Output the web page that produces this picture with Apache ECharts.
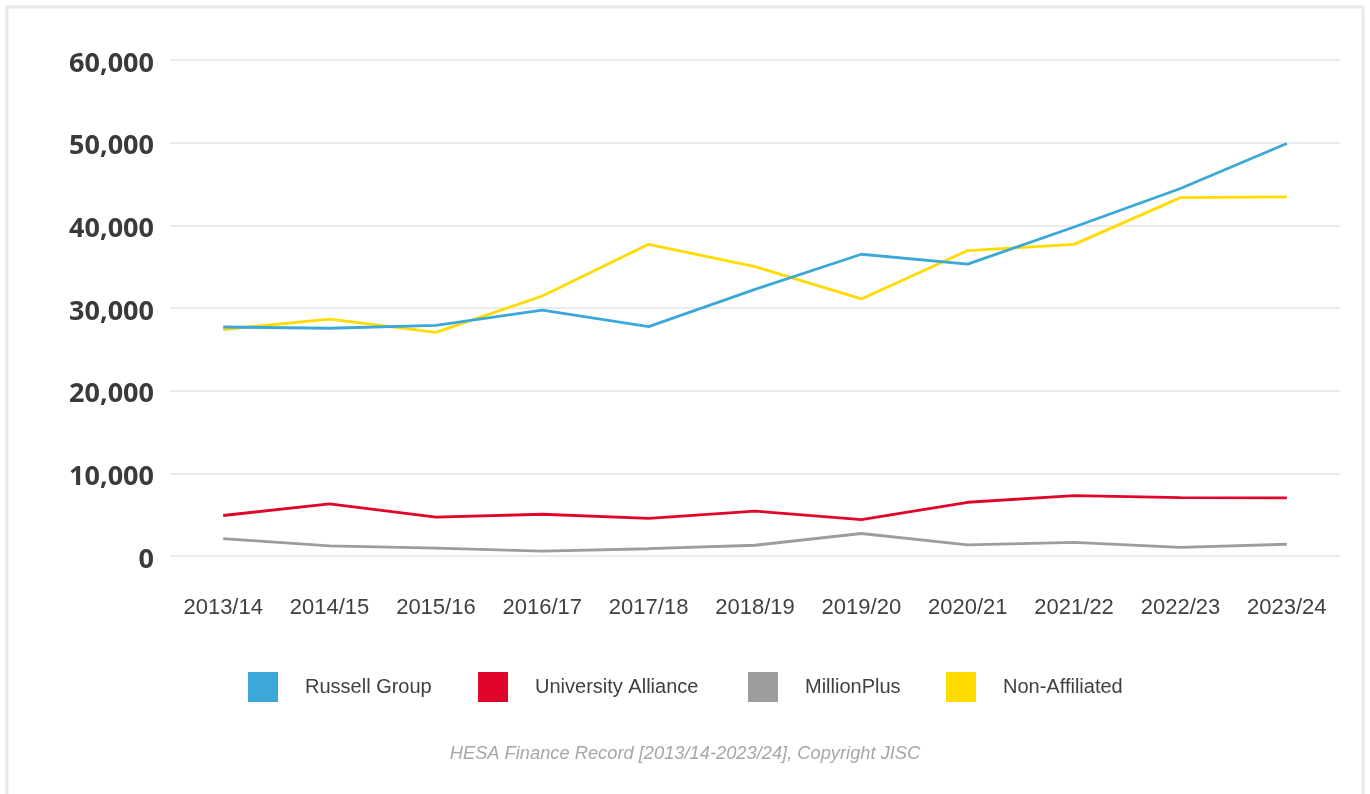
<!DOCTYPE html>
<html>
<head>
<meta charset="utf-8">
<script src="https://cdn.jsdelivr.net/npm/echarts@6/dist/echarts.min.js"></script>
<style>
html,body{margin:0;padding:0;background:#fff;}
#chart{width:1370px;height:794px;}
</style>
</head>
<body>
<div id="chart"></div>
<script>
const categories = ['2013/14','2014/15','2015/16','2016/17','2017/18','2018/19','2019/20','2020/21','2021/22','2022/23','2023/24'];
const russellGroup = [27700, 27550, 27900, 29750, 27750, 32250, 36500, 35300, 39800, 44450, 49900];
const universityAlliance = [4900, 6300, 4700, 5050, 4550, 5420, 4400, 6500, 7300, 7050, 7030];
const millionPlus = [2100, 1220, 950, 600, 880, 1300, 2720, 1350, 1660, 1050, 1420];
const nonAffiliated = [27400, 28650, 27050, 31450, 37700, 35000, 31100, 36950, 37700, 43350, 43450];
const seriesNames = ['Russell Group','University Alliance','MillionPlus','Non-Affiliated'];
const colors = ['#3ba8d8','#e0052a','#9d9d9f','#ffdb00'];
const caption = 'HESA Finance Record [2013/14-2023/24], Copyright JISC';

const chart = echarts.init(document.getElementById('chart'));
const dataSets = [russellGroup, universityAlliance, millionPlus, nonAffiliated];
const legendLeft = [248, 478, 748, 946];

const option = {
  backgroundColor: '#fff',
  animation: false,
  color: colors,
  grid: {left: 170, right: 30, top: 60, bottom: 238},
  xAxis: {
    type: 'category',
    data: categories,
    boundaryGap: true,
    axisLine: {show: false},
    axisTick: {show: false},
    axisLabel: {color: '#404040', fontSize: 22, fontFamily: 'Liberation Sans', margin: 41}
  },
  yAxis: {
    type: 'value',
    min: 0, max: 60000, interval: 10000,
    axisLine: {show: false},
    axisTick: {show: false},
    splitLine: {lineStyle: {color: '#ebebeb', width: 2}},
    axisLabel: {
      margin: 16,
      formatter: v => '{v|' + v.toLocaleString('en-US') + '}',
      rich: {
        v: {color: '#3a3a3a', fontSize: 27, fontWeight: 'bold', fontFamily: 'Open Sans', padding: [8, 0, 0, 0]}
      }
    }
  },
  legend: seriesNames.map((n, i) => ({
    data: [n],
    left: legendLeft[i],
    top: 672,
    padding: 0,
    icon: 'rect',
    itemWidth: 30,
    itemHeight: 30,
    textStyle: {color: '#404040', fontSize: 20, fontFamily: 'Liberation Sans', padding: [3, 0, 0, 22]}
  })),
  graphic: [
    {type: 'rect', shape: {x: 7, y: 7, width: 1356, height: 800}, style: {fill: 'none', stroke: '#e8e8e8', lineWidth: 3}, silent: true, z: -1},
    {type: 'text', left: 'center', top: 745, style: {text: caption, fill: '#a6a6a6', font: 'italic 18.3px "Liberation Sans"'}}
  ],
  series: seriesNames.map((n, i) => ({
    name: n,
    type: 'line',
    data: dataSets[i],
    showSymbol: false,
    symbol: 'none',
    lineStyle: {width: 2.8, color: colors[i]},
    itemStyle: {color: colors[i]},
    z: i === 0 ? 3 : 2
  }))
};
chart.setOption(option);
</script>
</body>
</html>
